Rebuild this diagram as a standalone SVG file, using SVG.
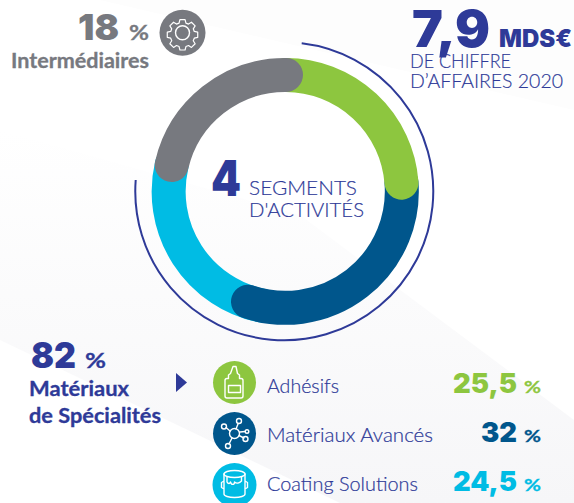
<svg xmlns="http://www.w3.org/2000/svg" width="574" height="503" viewBox="0 0 574 503">
<defs>
<linearGradient id="fade" x1="0" y1="1" x2="1" y2="0"><stop offset="0" stop-color="#f5f5f7"/><stop offset="0.5" stop-color="#f8f8fa"/><stop offset="1" stop-color="#ffffff"/></linearGradient>
<linearGradient id="fade2" x1="0" y1="0" x2="0" y2="1"><stop offset="0" stop-color="#ffffff"/><stop offset="1" stop-color="#f6f6f8"/></linearGradient>
<clipPath id="page"><rect width="574" height="503"/></clipPath>
</defs>
<style>
.b{font-family:"Inter","Liberation Sans",sans-serif;font-weight:900}
.m{font-family:"Lato","Liberation Sans",sans-serif;font-weight:700;stroke-width:.3}
.l{font-family:"Lato","Liberation Sans",sans-serif;font-weight:300;stroke:#2e3a98;stroke-width:.2}
.ind{fill:#2e3a98}.gry{fill:#77797f}
.m.ind{stroke:#2e3a98}.m.gry{stroke:#77797f}
.arc{fill:none;stroke-width:34;stroke-linecap:round}
.ic{fill:none;stroke:#fff;stroke-width:1.400;stroke-linejoin:round;stroke-linecap:round}
</style>
<g id="background">
<rect width="574" height="503" fill="#ffffff"/>
<polygon points="0,0 100,0 574,110 574,0" fill="#fdfdfd"/>
<polygon points="0,130 300,215 574,420 574,503 340,503 0,340" fill="url(#fade2)"/>
</g>
<g id="ring">
<path class="arc" stroke="#00bce4" stroke-linecap="butt" d="M262 305.700A116.500 116.500 0 0 1 171.700 165"/>
<path class="arc" stroke="#00568c" d="M401.500 182.700A116.500 116.500 0 0 1 248 301.700"/>
<path class="arc" stroke="#8dc63f" d="M286 75A116.500 116.500 0 0 1 401.500 182.700"/>
<path class="arc" stroke="#77797f" d="M171.700 165A116.500 116.500 0 0 1 286 75"/>
<path fill="none" stroke="#2e3a98" stroke-width="2" d="M301.700 43.300A149 149 0 1 1 135.700 180"/>
</g>
<g id="center-label">
<text class="b ind" x="211" y="196" font-size="50" textLength="30" lengthAdjust="spacingAndGlyphs">4</text>
<text class="l ind" x="249" y="195" font-size="20.500" textLength="108" lengthAdjust="spacingAndGlyphs">SEGMENTS</text>
<text class="l ind" x="249" y="217" font-size="20.500" textLength="115" lengthAdjust="spacingAndGlyphs">D'ACTIVITÉS</text>
</g>
<g id="intermediaires">
<text class="b gry" x="78" y="40" font-size="36" textLength="41" lengthAdjust="spacingAndGlyphs">18</text>
<text class="m gry" x="129" y="40" font-size="21" textLength="20" lengthAdjust="spacingAndGlyphs">%</text>
<text class="m gry" x="11" y="68" font-size="20" textLength="138" lengthAdjust="spacingAndGlyphs">Intermédiaires</text>
<circle cx="182.500" cy="32.700" r="23" fill="#77797f"/>
<path class="ic" stroke-width="1.100" transform="translate(182.500 32.700) scale(.86) translate(-182.500 -33.700)" d="M179.500 18.500h6l1 4 3 1.200 3.400-2.200 4.300 4.300-2.200 3.400 1.200 3 4 .9v6l-4 1-1.200 3 2.200 3.400-4.300 4.300-3.400-2.200-3 1.200-1 4h-6l-1-4-3-1.200-3.400 2.200-4.300-4.300 2.200-3.400-1.200-3-4-1v-6l4-.9 1.200-3-2.200-3.400 4.300-4.300 3.400 2.200 3-1.200z"/>
<circle class="ic" stroke-width="1" cx="182.500" cy="32.700" r="7"/>
</g>
<g id="revenue">
<text class="b ind" x="412" y="47" font-size="51" textLength="78" lengthAdjust="spacingAndGlyphs">7,9</text>
<text class="b ind" x="499" y="47" font-size="24" textLength="73" lengthAdjust="spacingAndGlyphs">MDS€</text>
<text class="l ind" x="410" y="68" font-size="20.500" textLength="101" lengthAdjust="spacingAndGlyphs">DE CHIFFRE</text>
<text class="l ind" x="410" y="88" font-size="20.500" textLength="153" lengthAdjust="spacingAndGlyphs">D’AFFAIRES 2020</text>
</g>
<g id="specialites">
<text class="b ind" x="31" y="368" font-size="36" textLength="45" lengthAdjust="spacingAndGlyphs">82</text>
<text class="m ind" x="85" y="368" font-size="21" textLength="21" lengthAdjust="spacingAndGlyphs">%</text>
<text class="m ind" x="29" y="396" font-size="20" textLength="100" lengthAdjust="spacingAndGlyphs">Matériaux</text>
<text class="m ind" x="29" y="423" font-size="20" textLength="132" lengthAdjust="spacingAndGlyphs">de Spécialités</text>
<polygon class="ind" points="176,373 187,382.500 176,392"/>
</g>
<g id="adhesifs">
<circle cx="234.500" cy="382.500" r="21.500" fill="#8dc63f"/>
<path class="ic" d="M233 366.500h3l1.500 7 2 1.500v3.500h1.500a2 2 0 0 1 2 2v15.500a2 2 0 0 1-2 2h-14a2 2 0 0 1-2-2v-15.500a2 2 0 0 1 2-2h1.500v-3.500l2-1.500z"/>
<rect class="ic" x="228.500" y="385.500" width="12" height="7"/>
<text class="l ind" x="267" y="393" font-size="19" textLength="72" lengthAdjust="spacingAndGlyphs">Adhésifs</text>
<text class="b" fill="#8dc63f" x="453" y="393" font-size="27" textLength="64" lengthAdjust="spacingAndGlyphs">25,5</text>
<text class="m" fill="#8dc63f" stroke="#8dc63f" x="524" y="393" font-size="17" textLength="17" lengthAdjust="spacingAndGlyphs">%</text>
</g>
<g id="materiaux-avances">
<circle cx="234.500" cy="433.500" r="21.500" fill="#00568c"/>
<g class="ic"><path d="M236 429L238 424M230 431L226 427.500M232 438L229 444M239 435.500L244 438M240 432L245 431.500"/>
<circle cx="234.500" cy="433.500" r="5"/><circle cx="239" cy="421" r="2.500"/><circle cx="224" cy="426.500" r="2.500"/><circle cx="228" cy="446" r="2.500"/><circle cx="245.500" cy="439" r="2.500"/><circle cx="247" cy="431.500" r="1.800"/></g>
<text class="l ind" x="267" y="442" font-size="19" textLength="166" lengthAdjust="spacingAndGlyphs">Matériaux Avancés</text>
<text class="b" fill="#00568c" x="481" y="442" font-size="27" textLength="36" lengthAdjust="spacingAndGlyphs">32</text>
<text class="m" fill="#00568c" stroke="#00568c" x="524" y="442" font-size="17" textLength="17" lengthAdjust="spacingAndGlyphs">%</text>
</g>
<g id="coating-solutions" clip-path="url(#page)">
<circle cx="234.500" cy="485" r="22" fill="#00bce4"/>
<g class="ic"><ellipse cx="234.500" cy="474" rx="10.500" ry="3.500"/><path d="M224 474v20a10.500 3.500 0 0 0 21 0v-20M224 481l-2.500 1.500v5l2.500 1.500M245 481l2.500 1.500v5l-2.500 1.500M227 477v5c1 2 3 2 3.500 0l1 2c2 1 3 0 3-2 2 2 5 1 7-1v-4"/></g>
<text class="l ind" x="267" y="491" font-size="19" textLength="151" lengthAdjust="spacingAndGlyphs">Coating Solutions</text>
<text class="b" fill="#00bce4" x="453" y="491" font-size="27" textLength="64" lengthAdjust="spacingAndGlyphs">24,5</text>
<text class="m" fill="#00bce4" stroke="#00bce4" x="524" y="491" font-size="17" textLength="17" lengthAdjust="spacingAndGlyphs">%</text>
</g>
<g id="connectors"/>
</svg>
